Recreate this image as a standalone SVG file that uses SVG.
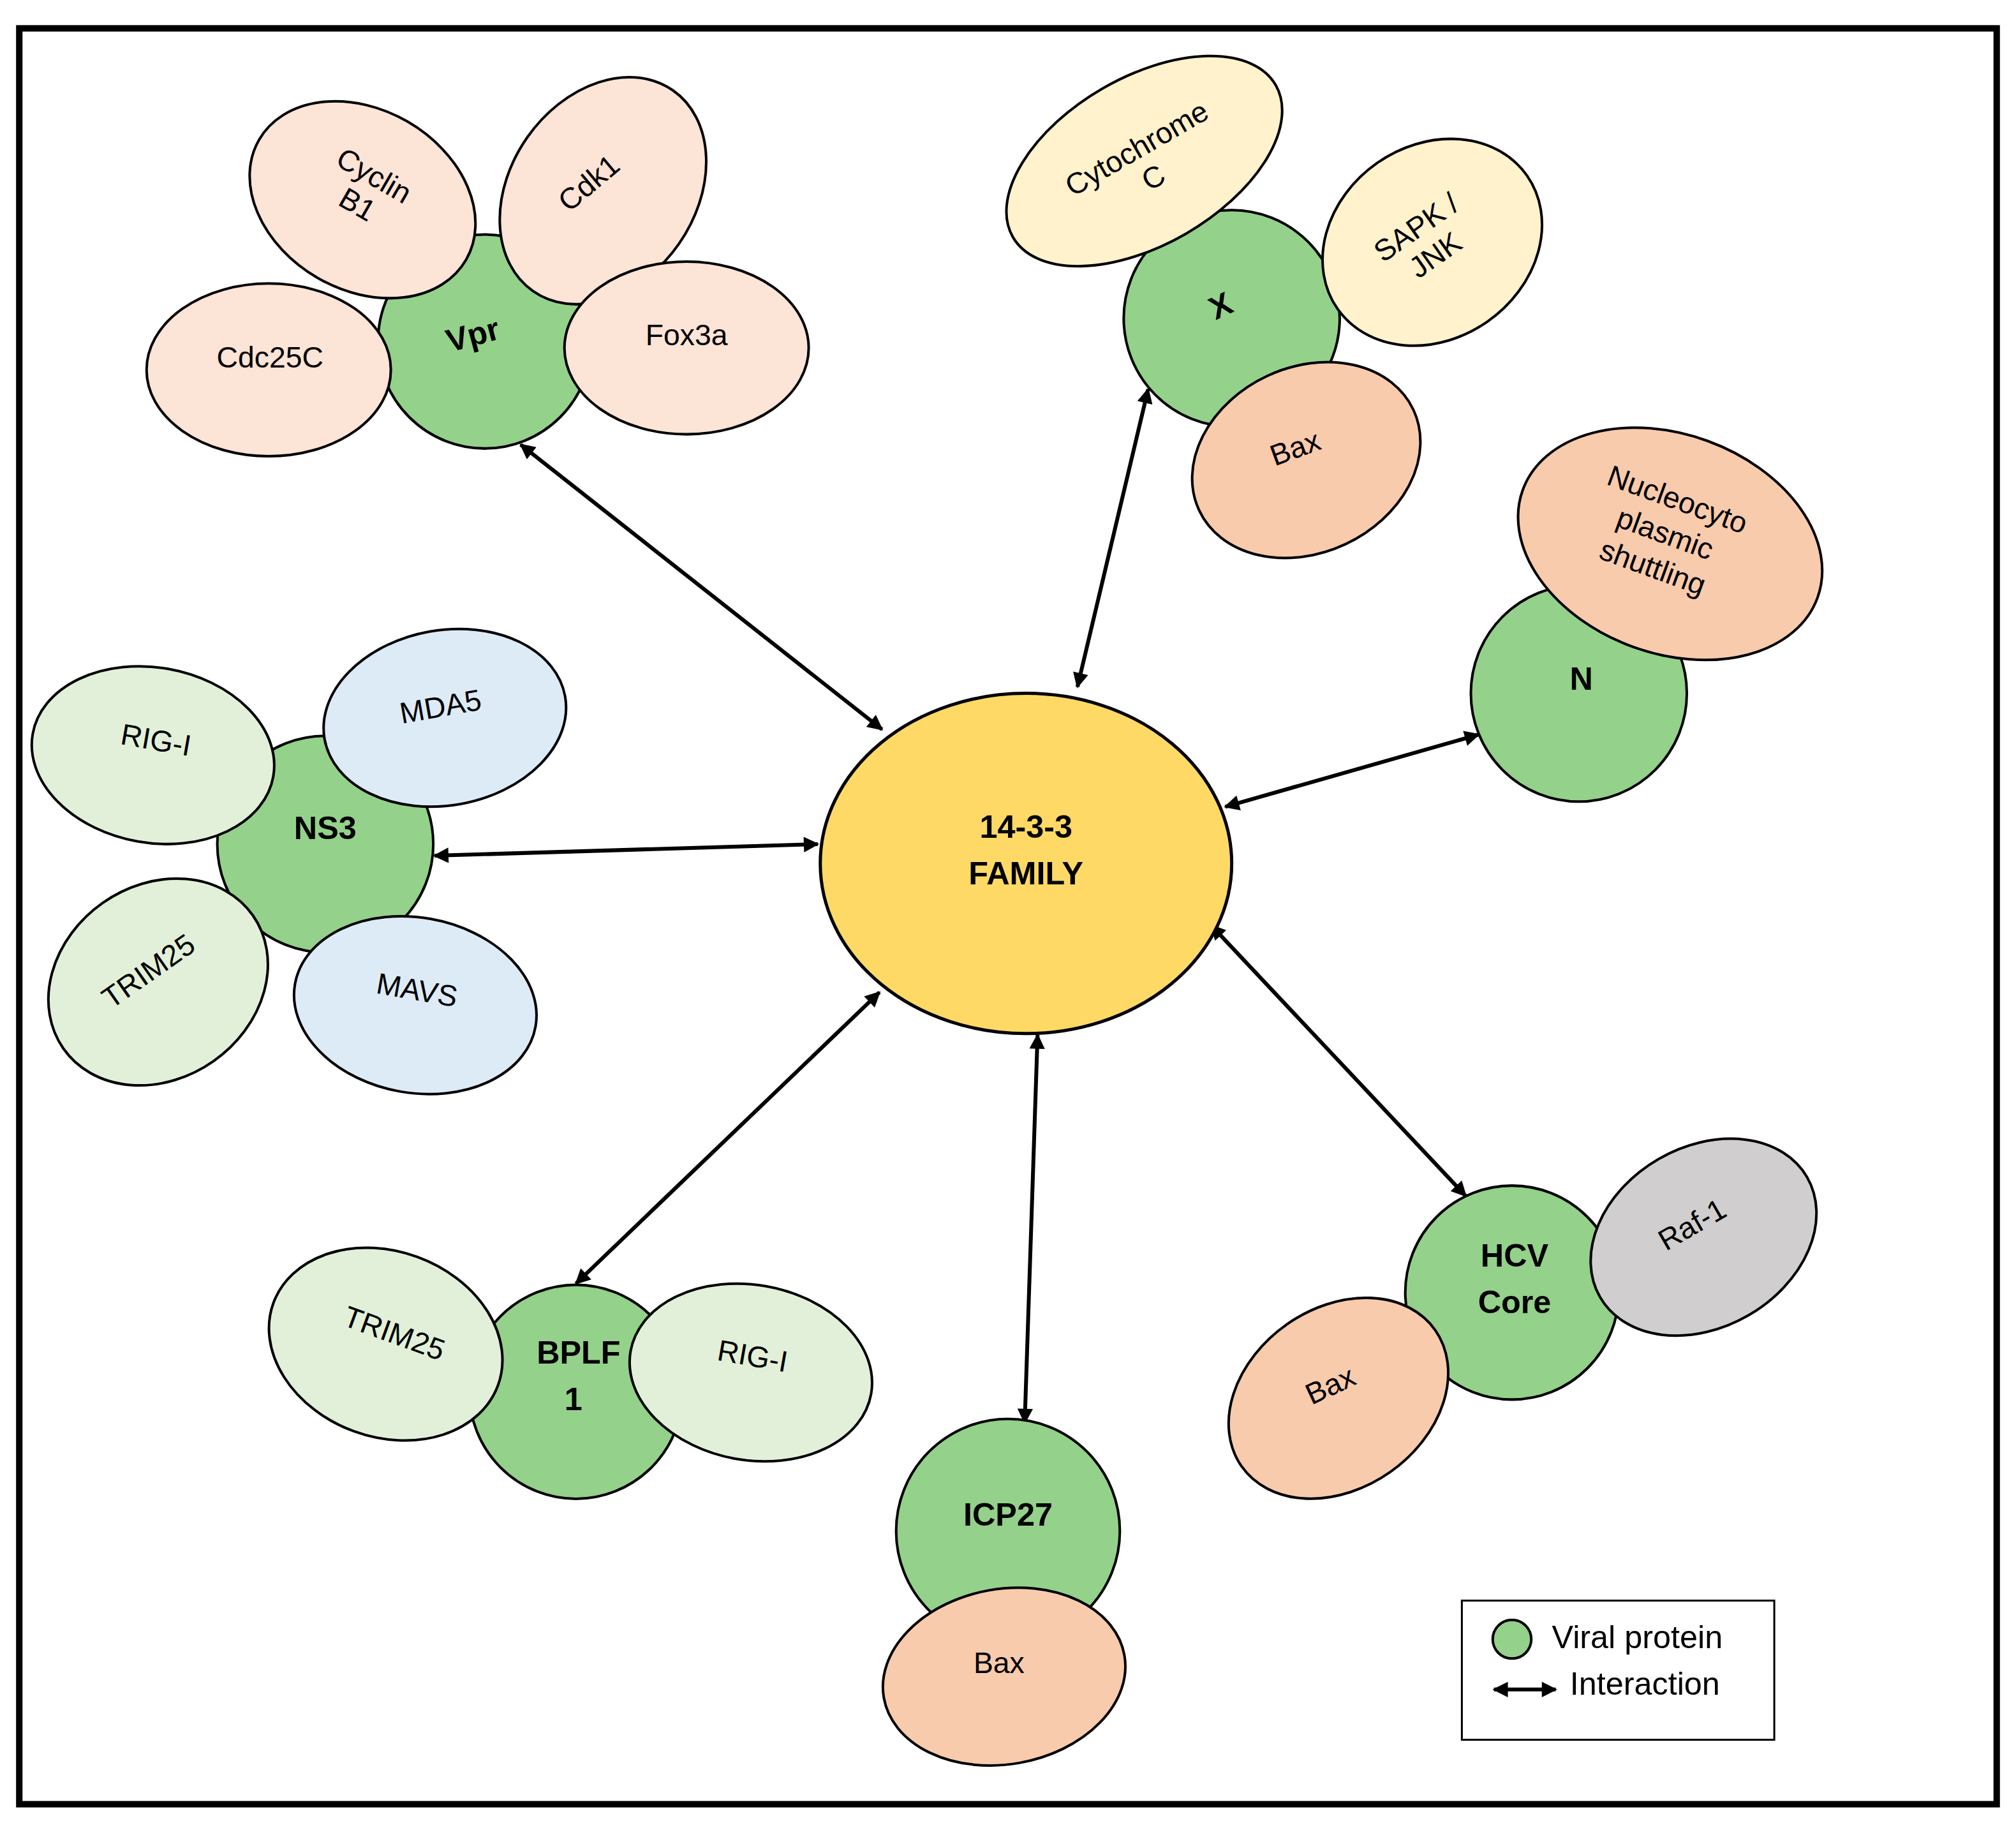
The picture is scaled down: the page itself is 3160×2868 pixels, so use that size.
<svg xmlns="http://www.w3.org/2000/svg" width="3160" height="2868" viewBox="0 0 3160 2868">
<style>
.c{fill:#94d18a;stroke:#000;stroke-width:2}
.e{stroke:#000;stroke-width:2}
.pk{fill:#fce4d6}.yl{fill:#fff2cc}.bx{fill:#f8cbad}.lg{fill:#e2f0d9}.lb{fill:#ddebf7}.gr{fill:#d0cece}
text{font-family:"Liberation Sans",Arial,sans-serif;font-size:23px;text-anchor:middle;fill:#000}
.b{font-weight:bold;font-size:25px}
.cn line{stroke:#000;stroke-width:3;marker-start:url(#a);marker-end:url(#a)}
</style>
<defs>
<marker id="a" viewBox="0 0 10 10" refX="9" refY="5" markerWidth="4.5" markerHeight="4" orient="auto-start-reverse" markerUnits="strokeWidth"><path d="M0,0L10,5L0,10z" fill="#000"/></marker>
</defs>
<rect width="3160" height="2868" fill="#fff"/>
<g transform="scale(2.0153,2.0197)">
<rect x="15" y="22" width="1538" height="1378" fill="none" stroke="#000" stroke-width="5"/>
<g class="cn">
<line x1="405" y1="345" x2="686" y2="566"/>
<line x1="893" y1="302" x2="838" y2="533"/>
<line x1="1150" y1="570" x2="953" y2="626"/>
<line x1="338" y1="664" x2="636" y2="655"/>
<line x1="448" y1="996" x2="684" y2="770"/>
<line x1="797" y1="1104" x2="807" y2="803"/>
<line x1="1140" y1="928" x2="942" y2="718"/>
</g>
<g id="family"><ellipse cx="798" cy="670" rx="160" ry="132" fill="#ffd966" stroke="#000" stroke-width="2.5"/>
<text class="b" x="798" y="650">14-3-3</text><text class="b" x="798" y="686">FAMILY</text></g>
<g id="vpr"><circle class="c" cx="377" cy="265" r="83"/>
<text class="b" transform="translate(370,268) rotate(-15)">Vpr</text>
<ellipse class="e pk" transform="translate(282,155) rotate(30)" rx="93" ry="70"/>
<text transform="translate(287,143) rotate(30)"><tspan x="0" y="0">Cyclin</tspan><tspan x="0" y="26">B1</tspan></text>
<ellipse class="e pk" transform="translate(469,148) rotate(-55)" rx="95" ry="72"/>
<text transform="translate(463,148) rotate(-40)">Cdk1</text>
<ellipse class="e pk" cx="209" cy="287" rx="95" ry="67"/><text x="210" y="285">Cdc25C</text>
<ellipse class="e pk" cx="534" cy="270" rx="95" ry="67"/><text x="534" y="268">Fox3a</text></g>
<g id="x"><circle class="c" cx="958" cy="247" r="84"/>
<text class="b" transform="translate(953,245) rotate(-25)">X</text>
<ellipse class="e yl" transform="translate(890,125) rotate(-30)" rx="118" ry="65"/>
<text transform="translate(888,122) rotate(-30)"><tspan x="0" y="0">Cytochrome</tspan><tspan x="0" y="26">C</tspan></text>
<ellipse class="e yl" transform="translate(1114,188) rotate(-35)" rx="90" ry="75"/>
<text transform="translate(1106,183) rotate(-35)"><tspan x="0" y="0">SAPK /</tspan><tspan x="0" y="26">JNK</tspan></text>
<ellipse class="e bx" transform="translate(1016,357) rotate(-25)" rx="92" ry="72"/>
<text transform="translate(1010,355) rotate(-20)">Bax</text></g>
<g id="n"><circle class="c" cx="1228" cy="538" r="84"/><text class="b" x="1230" y="535">N</text>
<ellipse class="e bx" transform="translate(1299,422) rotate(20)" rx="122" ry="85"/>
<text transform="translate(1302,395) rotate(20)"><tspan x="0" y="0">Nucleocyto</tspan><tspan x="0" y="28">plasmic</tspan><tspan x="0" y="56">shuttling</tspan></text></g>
<g id="ns3"><circle class="c" cx="253" cy="655" r="84"/><text class="b" x="253" y="651">NS3</text>
<ellipse class="e lg" transform="translate(119,586) rotate(10)" rx="95" ry="68"/><text transform="translate(120,582) rotate(10)">RIG-I</text>
<ellipse class="e lb" transform="translate(346,557) rotate(-10)" rx="95" ry="68"/><text transform="translate(344,556) rotate(-10)">MDA5</text>
<ellipse class="e lg" transform="translate(123,762) rotate(-35)" rx="90" ry="75"/><text transform="translate(120,760) rotate(-35)">TRIM25</text>
<ellipse class="e lb" transform="translate(323,780) rotate(10)" rx="95" ry="68"/><text transform="translate(323,776) rotate(10)">MAVS</text></g>
<g id="bplf1"><circle class="c" cx="448" cy="1080" r="83"/>
<text class="b"><tspan x="450" y="1058">BPLF</tspan><tspan x="446" y="1094">1</tspan></text>
<ellipse class="e lg" transform="translate(300,1043) rotate(20)" rx="93" ry="72"/><text transform="translate(304,1042) rotate(20)">TRIM25</text>
<ellipse class="e lg" transform="translate(584,1065) rotate(10)" rx="95" ry="68"/><text transform="translate(584,1060) rotate(10)">RIG-I</text></g>
<g id="icp27"><circle class="c" cx="784" cy="1188" r="87"/><text class="b" x="784" y="1184">ICP27</text>
<ellipse class="e bx" transform="translate(781,1301) rotate(-10)" rx="95" ry="68"/><text x="777" y="1298">Bax</text></g>
<g id="hcv"><circle class="c" cx="1176" cy="1003" r="83"/>
<text class="b"><tspan x="1178" y="983">HCV</tspan><tspan x="1178" y="1019">Core</tspan></text>
<ellipse class="e gr" transform="translate(1325,960) rotate(-30)" rx="93" ry="70"/><text transform="translate(1320,957) rotate(-30)">Raf-1</text>
<ellipse class="e bx" transform="translate(1041,1085) rotate(-35)" rx="92" ry="70"/><text transform="translate(1038,1082) rotate(-25)">Bax</text></g>
<g id="legend"><rect x="1137" y="1242" width="243" height="108" fill="#fff" stroke="#000" stroke-width="1.5"/>
<circle class="c" cx="1176" cy="1272" r="15"/>
<text x="1207" y="1279" style="text-anchor:start;font-size:25px">Viral protein</text>
<line x1="1162" y1="1311" x2="1210" y2="1311" stroke="#000" stroke-width="3" marker-start="url(#a)" marker-end="url(#a)"/>
<text x="1221" y="1315" style="text-anchor:start;font-size:25px">Interaction</text></g>
</g>
</svg>
